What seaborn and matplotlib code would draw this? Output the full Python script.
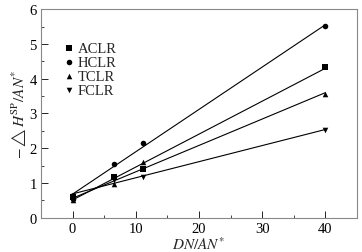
import matplotlib
matplotlib.use("Agg")
import matplotlib.pyplot as plt
import seaborn as sns
import pandas as pd
import numpy as np

x_vals = [0, 6.6, 11.2, 40]
series = ["ACLR", "HCLR", "TCLR", "FCLR"]
aclr = [0.60, 1.18, 1.40, 4.34]
hclr = [0.55, 1.55, 2.15, 5.51]
tclr = [0.50, 0.98, 1.60, 3.56]
fclr = [0.62, 1.10, 1.18, 2.53]
markers = {"ACLR": "s", "HCLR": "o", "TCLR": "^", "FCLR": "v"}

rows = []
for name, vals in zip(series, [aclr, hclr, tclr, fclr]):
    for xv, yv in zip(x_vals, vals):
        rows.append({"x": xv, "y": yv, "series": name})
df = pd.DataFrame(rows)

sns.set_style("ticks")
plt.rcParams['font.family'] = ['Liberation Serif', 'DejaVu Serif']
plt.rcParams['mathtext.fontset'] = 'stix'
plt.rcParams['font.size'] = 10

fig, ax = plt.subplots(figsize=(3.62, 2.53), dpi=100)
fig.subplots_adjust(left=0.113, right=0.986, top=0.96, bottom=0.135)

for name in series:
    sub = df[df.series == name]
    sns.regplot(data=sub, x="x", y="y", ax=ax, ci=None, marker=markers[name],
                scatter_kws=dict(s=16, color="black", linewidths=0, alpha=1),
                line_kws=dict(color="black", linewidth=0.8), label=name)

ax.set_xlim(-5, 45)
ax.set_ylim(0, 6)
ax.set_xticks([0, 10, 20, 30, 40])
ax.set_xticks([-5, 5, 15, 25, 35, 45], minor=True)
ax.set_yticks([0, 1, 2, 3, 4, 5, 6])
ax.set_yticks(np.arange(0.5, 6, 1), minor=True)
ax.tick_params(direction="in", length=5, width=0.6, labelsize=10.5, colors="black", pad=3)
ax.tick_params(which="minor", direction="in", length=2.5, width=0.6)
for s in ax.spines.values():
    s.set_color("#888888")
    s.set_linewidth(0.8)

ax.set_xlabel(r"$DN/AN^{*}$", fontsize=11, labelpad=0)
ax.set_ylabel(r"$-\triangle H^{\mathrm{SP}}/AN^{*}$", fontsize=11, labelpad=1)

leg = ax.legend(loc="upper left", bbox_to_anchor=(0.06, 0.87), frameon=False,
                handlelength=0.5, handletextpad=0.3, labelspacing=0.05, fontsize=10.5,
                borderaxespad=0, markerscale=1.0)
fig.savefig("out.png", dpi=100)
